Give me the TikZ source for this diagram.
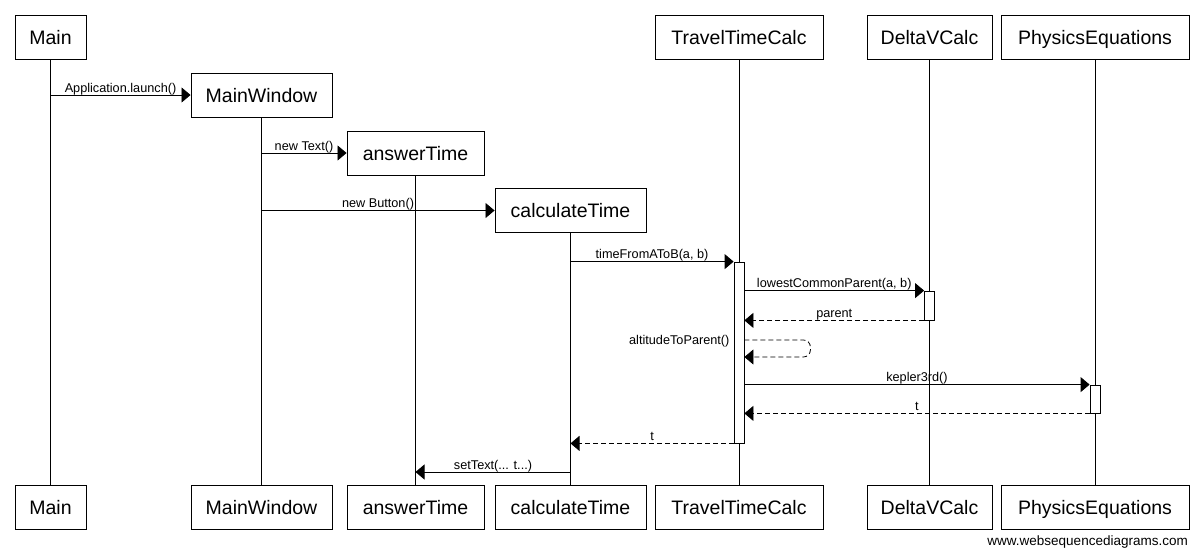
\documentclass[tikz,border=0pt]{standalone}
\usepackage{fontspec}
\setmainfont{Liberation Sans}
\usetikzlibrary{arrows.meta,positioning,calc}

\begin{document}
\begin{tikzpicture}[x=1pt,y=-1pt,
    obj/.style={draw,fill=white,line width=0.9pt,minimum height=44pt,inner sep=0pt,text height=14pt,text depth=0pt,font=\fontsize{19.5}{19.5}\selectfont},
    life/.style={line width=0.8pt},
    act/.style={draw,fill=white,line width=0.8pt,minimum width=10pt,inner sep=0pt},
    msg/.style={line width=0.8pt,-{Triangle[length=9pt,width=15pt]}},
    ret/.style={msg,dash pattern=on 5pt off 3pt},
    lbl/.style={font=\fontsize{12.7}{13}\selectfont,inner sep=0.5pt,text depth=2pt}]
    \useasboundingbox (0,0) rectangle (1200,554);

    % Participants and lifelines
    \foreach \n/\x/\y/\w/\t in {main/50.5/37/71pt/Main, mw/261.5/95/141pt/MainWindow,
        at/415.5/153/137pt/answerTime, ct/570.5/210.5/151pt/calculateTime,
        ttc/739/37/168pt/TravelTimeCalc, dvc/929.5/37/125pt/DeltaVCalc,
        pe/1095/37/188pt/PhysicsEquations} {
      \node[obj,minimum width=\w] (\n-t) at (\x,\y) {\t};
      \node[obj,minimum width=\w] (\n-b) at (\x,507) {\t};
      \draw[life] (\n-t) -- (\n-b);
    }

    % Activations
    \node[act,minimum height=181pt] (ttc-a) at (739,352.5) {};
    \node[act,minimum height=29pt] (dvc-a) at (929.5,305.5) {};
    \node[act,minimum height=28pt] (pe-a) at (1095,399) {};

    % Messages
    \draw[msg] (main-t.south |- mw-t.west) -- node[lbl,above] {Application.launch()} (mw-t.west);
    \draw[msg] (mw-t.south |- at-t.west) -- node[lbl,above] {new Text()} (at-t.west);
    \draw[msg] (mw-t.south |- ct-t.west) -- node[lbl,above] {new Button()} (ct-t.west);
    \draw[msg] (ct-t.south |- ttc-a.north west) -- node[lbl,above] {timeFromAToB(a, b)} (ttc-a.north west);
    \draw[msg] (ttc-a.east |- dvc-a.north west) -- node[lbl,above] {lowestCommonParent(a, b)} (dvc-a.north west);
    \draw[ret] (dvc-a.south west) -- node[lbl,above] {parent} (ttc-a.east |- dvc-a.south west);

    % Self call
    \coordinate (self) at (ttc-a.east |- 0,340);
    \node[lbl,left,inner sep=4pt,text depth=0pt] (alt) at (ttc-a.west |- self) {altitudeToParent()};
    \draw[ret,rounded corners=7pt] (self) -- ++(66,0) -- ++(0,17) -- ++(-66,0);

    \draw[msg] (ttc-a.east |- pe-a.north west) -- node[lbl,above] {kepler3rd()} (pe-a.north west);
    \draw[ret] (pe-a.south west) -- node[lbl,above] {t} (ttc-a.east |- pe-a.south west);
    \draw[ret] (ttc-a.south west) -- node[lbl,above] {t} (ct-t.south |- ttc-a.south west);
    \coordinate (settext) at (ct-t.south |- 0,472);
    \draw[msg] (settext) -- node[lbl,above] {setText(... t...)} (at-t.south |- settext);

    % Watermark
    \node[font=\fontsize{13.5}{14}\selectfont,anchor=north east,inner sep=0pt] (wsd) at (1188,536) {www.websequencediagrams.com};
\end{tikzpicture}
\end{document}
